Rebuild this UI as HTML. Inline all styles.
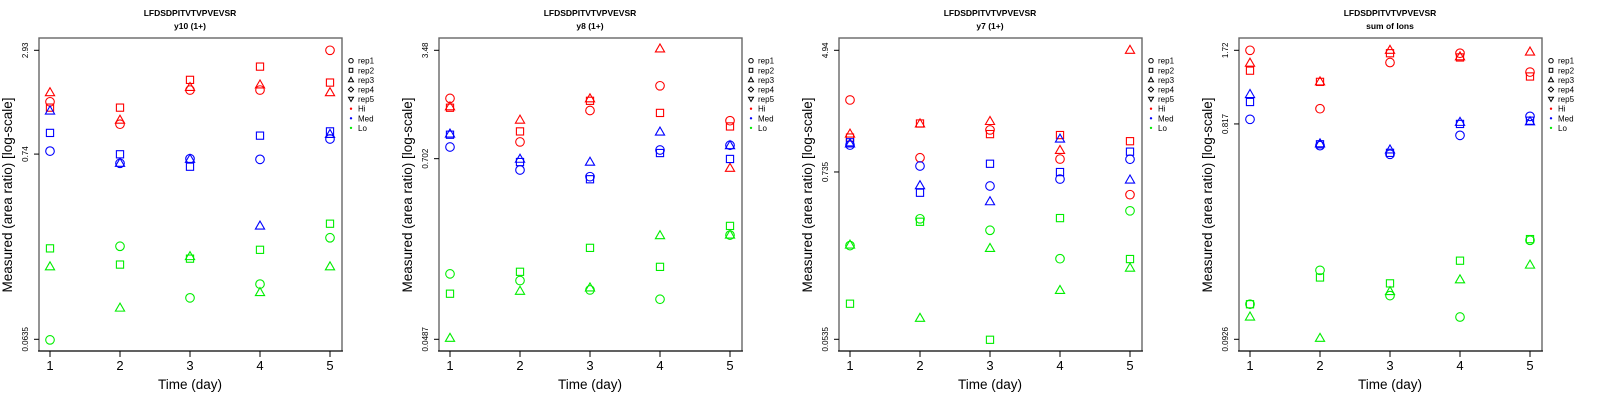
<!DOCTYPE html>
<html><head><meta charset="utf-8">
<style>
html,body{margin:0;padding:0;background:#fff;}
svg{display:block;font-family:"Liberation Sans",sans-serif;}
</style></head>
<body>
<svg id="chart" width="1600" height="400" viewBox="0 0 1600 400" xmlns="http://www.w3.org/2000/svg"></svg>
<script>
// ---- data ----
const days = [1, 2, 3, 4, 5];
const panelTitles = ["y10 (1+)", "y8 (1+)", "y7 (1+)", "sum of Ions"];
const peptide = "LFDSDPITVTVPVEVSR";
const axisMax = [2.93, 3.48, 4.94, 1.72];
const axisMid = [0.74, 0.702, 0.735, 0.817];
const axisMin = [0.0635, 0.0487, 0.0535, 0.0926];
const tickLabelsMax = ["2.93", "3.48", "4.94", "1.72"];
const tickLabelsMid = ["0.74", "0.702", "0.735", "0.817"];
const tickLabelsMin = ["0.0635", "0.0487", "0.0535", "0.0926"];
const groups = ["Hi", "Med", "Lo"];
const reps = ["rep1", "rep2", "rep3"];
// values[panel][group][rep] = per day
const p1Hi  = [[1.48,1.10,1.73,1.73,2.93],[1.37,1.37,1.98,2.36,1.91],[1.67,1.16,1.79,1.85,1.67]];
const p1Med = [[0.77,0.655,0.696,0.69,0.904],[0.98,0.738,0.626,0.945,1.00],[1.31,0.655,0.69,0.285,0.96]];
const p1Lo  = [[0.063,0.218,0.110,0.132,0.244],[0.212,0.171,0.185,0.208,0.294],[0.166,0.096,0.190,0.118,0.166]];
const p2Hi  = [[1.71,0.899,1.43,2.06,1.23],[1.49,1.05,1.65,1.38,1.13],[1.51,1.24,1.70,3.55,0.609]];
const p2Med = [[0.834,0.594,0.538,0.798,0.856],[1.00,0.668,0.518,0.763,0.699],[1.01,0.696,0.666,1.04,0.85]];
const p2Lo  = [[0.128,0.116,0.101,0.088,0.227],[0.0955,0.132,0.188,0.142,0.260],[0.0494,0.099,0.104,0.225,0.227]];
const p3Hi  = [[2.27,0.918,1.42,0.900,0.515],[1.26,1.57,1.33,1.31,1.19],[1.33,1.56,1.62,1.03,4.94]];
const p3Med = [[1.12,0.807,0.590,0.658,0.897],[1.17,0.531,0.836,0.734,1.01],[1.14,0.593,0.461,1.23,0.648]];
const p3Lo  = [[0.232,0.353,0.295,0.189,0.400],[0.0934,0.337,0.0531,0.357,0.188],[0.234,0.0743,0.222,0.115,0.163]];
const p4Hi  = [[1.72,0.953,1.52,1.67,1.38],[1.40,1.25,1.67,1.60,1.32],[1.51,1.25,1.72,1.61,1.69]];
const p4Med = [[0.856,0.656,0.601,0.728,0.882],[1.02,0.665,0.61,0.817,0.844],[1.10,0.668,0.628,0.830,0.835]];
const p4Lo  = [[0.132,0.186,0.144,0.116,0.252],[0.132,0.173,0.163,0.205,0.255],[0.116,0.0935,0.150,0.169,0.196]];
const panelData = [[p1Hi,p1Med,p1Lo],[p2Hi,p2Med,p2Lo],[p3Hi,p3Med,p3Lo],[p4Hi,p4Med,p4Lo]];
const groupColors = ["#ff0000", "#0000ff", "#00ee00"];
const legendLabels = ["rep1","rep2","rep3","rep4","rep5","Hi","Med","Lo"];

// ---- layout ----
const NS = "http://www.w3.org/2000/svg";
const svg = document.getElementById("chart");
const BOX = {l:39, r:342, t:38, b:351};
const Y_TOP = 50.3, Y_BOT = 339.3, X1 = 50, XSTEP = 70;
function mk(tag, attrs, parent){ const e=document.createElementNS(NS,tag); for(const k in attrs) e.setAttribute(k,attrs[k]); (parent||svg).appendChild(e); return e; }
function xScale(ox, d){ return ox + X1 + (d-1)*XSTEP; }
function yScale(p, v){ const a=Math.log(axisMax[p]), b=Math.log(axisMin[p]); return Y_TOP + (a-Math.log(v))/(a-b)*(Y_BOT-Y_TOP); }
function marker(g, shape, cx, cy, col){
  let e;
  if(shape===0){ e=mk("circle",{cx:cx,cy:cy,r:4.3,fill:"none",stroke:col,"stroke-width":1.1},g); }
  else if(shape===1){ e=mk("rect",{x:cx-3.6,y:cy-3.6,width:7.2,height:7.2,fill:"none",stroke:col,"stroke-width":1.1},g); }
  else { e=mk("polygon",{points:`${cx},${cy-5} ${cx-4.6},${cy+3} ${cx+4.6},${cy+3}`,fill:"none",stroke:col,"stroke-width":1.1},g); }
  return e;
}

for(let p=0;p<4;p++){
  const ox = p*400;
  const g = mk("g",{});
  
  
  const t1 = mk("text",{x:ox+190,y:16,"text-anchor":"middle","font-size":"8.5","font-weight":"bold"},g); t1.textContent=peptide;
  
  
  const t2 = mk("text",{x:ox+190,y:29,"text-anchor":"middle","font-size":"8.5","font-weight":"bold"},g); t2.textContent=panelTitles[p];
  
  
  const box = mk("rect",{x:ox+BOX.l,y:BOX.t,width:BOX.r-BOX.l,height:BOX.b-BOX.t,fill:"none",stroke:"#666","stroke-width":1.4},g);
  
  
  mk("line",{x1:ox+BOX.l-1,x2:ox+BOX.r+1,y1:BOX.b,y2:BOX.b,stroke:"#000","stroke-width":1},g);
  // x ticks
  days.forEach(d=>{
    const x=xScale(ox,d);
    mk("line",{x1:x,x2:x,y1:BOX.b,y2:BOX.b+6,stroke:"#000","stroke-width":1},g);
    const tl=mk("text",{x:x,y:370,"text-anchor":"middle","font-size":"13"},g); tl.textContent=d;
    
    
  });
  const xt=mk("text",{x:ox+190,y:389,"text-anchor":"middle","font-size":"13.5"},g); xt.textContent="Time (day)";
  
  
  // y ticks
  [[axisMax[p],tickLabelsMax[p]],[axisMid[p],tickLabelsMid[p]],[axisMin[p],tickLabelsMin[p]]].forEach(([v,lab])=>{
    const y=yScale(p,v);
    mk("line",{x1:ox+BOX.l-5,x2:ox+BOX.l,y1:y,y2:y,stroke:"#000","stroke-width":1},g);
    const yl=mk("text",{x:0,y:0,"text-anchor":"middle","font-size":"8",transform:`translate(${ox+28},${y}) rotate(-90)`},g); yl.textContent=lab;
    
    
  });
  const yt=mk("text",{x:0,y:0,"text-anchor":"middle","font-size":"13.5",transform:`translate(${ox+12},195) rotate(-90)`},g); yt.textContent="Measured (area ratio) [log-scale]";
  
  
  // points
  panelData[p].forEach((grp,gi)=>{
    grp.forEach((series,ri)=>{
      series.forEach((v,di)=>{
        const m=marker(g, ri, xScale(ox,days[di]), yScale(p,v), groupColors[gi]);
        
        
      });
    });
  });
  // legend
  const lg = mk("g",{},g);
  
  
  legendLabels.forEach((lab,i)=>{
    const y=60.7+i*9.6, sx=ox+351;
    if(i===0) mk("circle",{cx:sx,cy:y,r:2.2,fill:"none",stroke:"#000","stroke-width":1},lg);
    else if(i===1) mk("rect",{x:sx-1.8,y:y-2,width:3.6,height:4,fill:"none",stroke:"#000","stroke-width":1},lg);
    else if(i===2) mk("polygon",{points:`${sx},${y-2.6} ${sx-2.5},${y+1.8} ${sx+2.5},${y+1.8}`,fill:"none",stroke:"#000","stroke-width":1},lg);
    else if(i===3) mk("polygon",{points:`${sx},${y-2.6} ${sx-2.6},${y} ${sx},${y+2.6} ${sx+2.6},${y}`,fill:"none",stroke:"#000","stroke-width":1},lg);
    else if(i===4) mk("polygon",{points:`${sx},${y+2.4} ${sx-2.5},${y-1.8} ${sx+2.5},${y-1.8}`,fill:"none",stroke:"#000","stroke-width":1},lg);
    else mk("circle",{cx:sx,cy:y,r:1.2,fill:groupColors[i-5]},lg);
    const lt=mk("text",{x:ox+358,y:y+3,"font-size":"8"},lg); lt.textContent=lab;
    
    
  });
}
</script>
</body></html>
